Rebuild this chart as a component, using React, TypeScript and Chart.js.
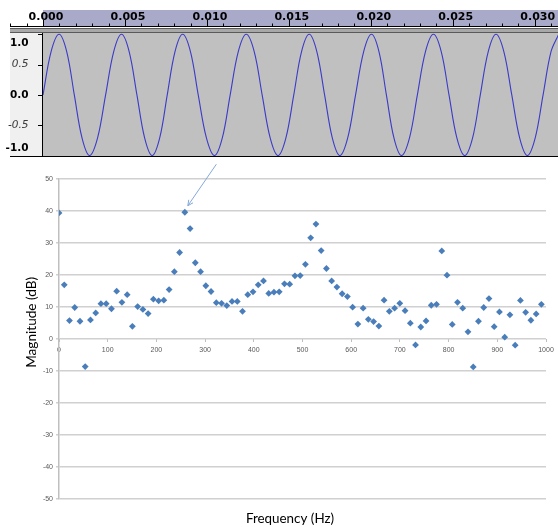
import React, { useEffect, useRef } from 'react';
import { Chart, registerables } from 'chart.js';

Chart.register(...registerables);

// ---- Waveform (Audacity view): points (seconds / amplitude)
const WAVE_TIMES = [
  0, 0.00049, 0.00098, 0.00145, 0.00191, 0.00238, 0.00284, 0.00333,
  0.00382, 0.00431, 0.00479, 0.00526, 0.00573, 0.00620, 0.00666, 0.00712,
  0.00758, 0.00805, 0.00852, 0.00900, 0.00947, 0.00997, 0.01046, 0.01094,
  0.01142, 0.01191, 0.01240, 0.01289, 0.01337, 0.01386, 0.01434, 0.01482,
  0.01530, 0.01577, 0.01624, 0.01671, 0.01718, 0.01765, 0.01811, 0.01859,
  0.01907, 0.01956, 0.02004, 0.02050, 0.02095, 0.02141, 0.02187, 0.02236,
  0.02284, 0.02333, 0.02382, 0.02430, 0.02477, 0.02525, 0.02573, 0.02621,
  0.02668, 0.02716, 0.02764, 0.02812, 0.02860, 0.02908, 0.02955, 0.03003,
  0.03051, 0.03099, 0.03146,
];
const WAVE_VALUES = [
  0, 0.71, 1, 0.71, 0, -0.71, -1, -0.71,
  0, 0.71, 1, 0.71, 0, -0.71, -1, -0.71,
  0, 0.71, 1, 0.71, 0, -0.71, -1, -0.71,
  0, 0.71, 1, 0.71, 0, -0.71, -1, -0.71,
  0, 0.71, 1, 0.71, 0, -0.71, -1, -0.71,
  0, 0.71, 1, 0.71, 0, -0.71, -1, -0.71,
  0, 0.71, 1, 0.71, 0, -0.71, -1, -0.71,
  0, 0.71, 1, 0.71, 0, -0.71, -1, -0.71,
  0, 0.71, 1,
];
const TIME_TICKS = [0, 0.005, 0.01, 0.015, 0.02, 0.025, 0.03];
const AMP_TICKS = [1.0, 0.5, 0.0, -0.5, -1.0];
const AMP_LABELS = ['1.0', '0.5', '0.0', '-0.5', '-1.0'];

// ---- Spectrum
const FREQ_HZ = [
  0, 10.8, 21.5, 32.3, 43.1, 53.8, 64.6, 75.4, 86.1, 96.9,
  107.7, 118.4, 129.2, 140.0, 150.7, 161.5, 172.3, 183.0, 193.8, 204.6,
  215.3, 226.1, 236.9, 247.6, 258.4, 269.2, 279.9, 290.7, 301.5, 312.2,
  323.0, 333.8, 344.5, 355.3, 366.1, 376.8, 387.6, 398.4, 409.1, 419.9,
  430.7, 441.4, 452.2, 463.0, 473.7, 484.5, 495.3, 506.0, 516.8, 527.6,
  538.3, 549.1, 559.9, 570.6, 581.4, 592.2, 602.9, 613.7, 624.5, 635.2,
  646.0, 656.8, 667.5, 678.3, 689.1, 699.8, 710.6, 721.4, 732.1, 742.9,
  753.7, 764.4, 775.2, 786.0, 796.7, 807.5, 818.3, 829.0, 839.8, 850.6,
  861.3, 872.1, 882.9, 893.6, 904.4, 915.2, 925.9, 936.7, 947.5, 958.2,
  969.0, 979.8, 990.5,
];
const MAG_DB = [
  39.4, 16.9, 5.7, 9.8, 5.5, -8.7, 5.9, 8.1, 11.0, 11.0,
  9.4, 14.9, 11.4, 13.8, 3.9, 10.1, 9.2, 7.9, 12.4, 11.9,
  12.1, 15.4, 21.0, 27.0, 39.6, 34.5, 23.8, 21.0, 16.6, 14.8,
  11.3, 11.1, 10.4, 11.7, 11.7, 8.6, 13.8, 14.7, 16.9, 18.1,
  14.2, 14.6, 14.7, 17.2, 17.1, 19.7, 19.8, 23.3, 31.6, 35.9,
  27.6, 22.0, 18.1, 16.2, 14.1, 13.2, 9.9, 4.6, 9.6, 6.1,
  5.4, 4.0, 12.1, 8.6, 9.6, 11.1, 8.8, 4.9, -1.9, 3.7,
  5.6, 10.5, 10.8, 27.5, 19.9, 4.5, 11.4, 9.6, 2.2, -8.8,
  5.5, 9.8, 12.6, 3.8, 8.4, 0.5, 7.5, -2.0, 12.0, 8.3,
  5.8, 7.8, 10.8,
];
const PEAK_INDEX = 24;
const X_TITLE = 'Frequency (Hz)';
const Y_TITLE = 'Magnitude (dB)';

const audacityPlugin = {
  id: 'audacityFrame',
  beforeDraw(chart: any) {
    const { ctx, chartArea: a, width, height } = chart;
    ctx.save();
    ctx.fillStyle = '#ffffff';
    ctx.fillRect(0, 0, width, height);
    ctx.fillStyle = '#a9a9c9';
    ctx.fillRect(a.left, 10, a.right - a.left, 17);
    ctx.fillStyle = '#f0f0f0';
    ctx.fillRect(10, a.top, a.left - 10, a.bottom - a.top);
    ctx.fillStyle = '#c0c0c0';
    ctx.fillRect(a.left, a.top, a.right - a.left, a.bottom - a.top);
    ctx.restore();
  },
  afterDraw(chart: any) {
    const { ctx, chartArea: a, width } = chart;
    const xs = chart.scales.x;
    const ys = chart.scales.y;
    ctx.save();
    // ruler ticks
    ctx.strokeStyle = '#000';
    ctx.lineWidth = 1;
    ctx.beginPath();
    for (let k = -2; k <= 31; k++) {
      const px = Math.round(xs.getPixelForValue(k / 1000)) + 0.5;
      const major = k % 5 === 0;
      ctx.moveTo(px, major ? 20 : 23.5);
      ctx.lineTo(px, 26);
    }
    ctx.stroke();
    // ruler bottom + separator
    ctx.fillStyle = '#000';
    ctx.fillRect(10, 26, width - 10, 1);
    ctx.fillStyle = '#5a5a5a';
    ctx.fillRect(10, 28, width - 10, 1);
    ctx.fillStyle = '#a8a8a8';
    ctx.fillRect(10, 29, width - 10, 3);
    ctx.fillStyle = '#5a5a5a';
    ctx.fillRect(10, 32, width - 10, 1);
    // vertical ruler
    ctx.fillStyle = '#000';
    ctx.fillRect(a.left - 1, a.top, 1, a.bottom - a.top);
    ctx.fillRect(10, a.bottom, width - 10, 1);
    ctx.textAlign = 'right';
    ctx.textBaseline = 'middle';
    AMP_TICKS.forEach((v, i) => {
      const py = ys.getPixelForValue(v);
      ctx.fillStyle = '#000';
      ctx.fillRect(a.left - 5, Math.round(py), 4, 1);
      const major = i % 2 === 0;
      ctx.font = major ? 'bold 10.5px "DejaVu Sans"' : 'italic 10.5px "DejaVu Sans"';
      ctx.fillStyle = major ? '#000' : '#3a3a3a';
      const cy = Math.max(a.top + 10, Math.min(a.bottom - 8, py));
      ctx.fillText(AMP_LABELS[i], 28.5, cy);
    });
    ctx.restore();
  },
};

const specDecorPlugin = {
  id: 'specDecor',
  afterDatasetsDraw(chart: any) {
    const { ctx, chartArea: a } = chart;
    // arrow pointing at the fundamental peak
    const meta = chart.getDatasetMeta(0);
    const el = meta.data[PEAK_INDEX];
    if (el) {
      const tx = el.x + 3;
      const ty = el.y - 6.5;
      const sx = tx + 28.5;
      const sy = ty - 41.5;
      const ang = Math.atan2(ty - sy, tx - sx);
      ctx.save();
      ctx.strokeStyle = '#86a8d8';
      ctx.lineWidth = 1;
      ctx.beginPath();
      ctx.moveTo(sx, sy);
      ctx.lineTo(tx, ty);
      const L = 6;
      ctx.moveTo(tx - L * Math.cos(ang - 0.45), ty - L * Math.sin(ang - 0.45));
      ctx.lineTo(tx, ty);
      ctx.lineTo(tx - L * Math.cos(ang + 0.45), ty - L * Math.sin(ang + 0.45));
      ctx.stroke();
      ctx.restore();
    }
    // y-axis title (Excel places it a little above the plot centre)
    ctx.save();
    ctx.translate(31.5, (a.top + a.bottom) / 2 - 16.5);
    ctx.rotate(-Math.PI / 2);
    ctx.font = '13.6px Lato';
    ctx.fillStyle = '#000';
    ctx.textAlign = 'center';
    ctx.textBaseline = 'middle';
    ctx.fillText(Y_TITLE, 0, 0);
    ctx.restore();
  },
};

export default function App() {
  const waveRef = useRef<HTMLCanvasElement>(null);
  const specRef = useRef<HTMLCanvasElement>(null);

  useEffect(() => {
    document.body.style.margin = '0';
    Chart.defaults.font.family = '"Liberation Sans", Arial, sans-serif';

    const wave = new Chart(waveRef.current as HTMLCanvasElement, {
      type: 'line',
      data: {
        datasets: [
          {
            data: WAVE_TIMES.map((t, i) => ({ x: t, y: WAVE_VALUES[i] })),
            borderColor: '#3a3ac8',
            borderWidth: 1.1,
            pointRadius: 0,
            tension: 0.35,
            fill: false,
          },
        ],
      },
      options: {
        responsive: false,
        animation: false,
        events: [],
        layout: { padding: { left: 0, right: 0, top: 0, bottom: 4 } },
        plugins: { legend: { display: false }, tooltip: { enabled: false } },
        scales: {
          x: {
            type: 'linear',
            position: 'top',
            min: 0,
            max: 0.03142,
            afterBuildTicks: (s: any) => {
              s.ticks = TIME_TICKS.map((v) => ({ value: v }));
            },
            afterFit: (s: any) => {
              s.height = 33;
            },
            ticks: {
              callback: (v: any) => Number(v).toFixed(3),
              font: { family: '"DejaVu Sans"', size: 11, weight: 'bold' },
              color: '#000',
              padding: 1,
              labelOffset: 3,
              maxRotation: 0,
              autoSkip: false,
            },
            grid: { display: false },
            border: { display: false },
          },
          y: {
            type: 'linear',
            min: -1.008,
            max: 1.021,
            ticks: { display: false },
            grid: { display: false },
            border: { display: false },
            afterFit: (s: any) => {
              s.width = 43;
            },
          },
        },
      } as any,
      plugins: [audacityPlugin],
    });

    const spec = new Chart(specRef.current as HTMLCanvasElement, {
      type: 'scatter',
      data: {
        datasets: [
          {
            data: FREQ_HZ.map((f, i) => ({ x: f, y: MAG_DB[i] })),
            pointStyle: 'rectRot',
            pointRadius: 3.4,
            backgroundColor: '#4a7ebb',
            borderColor: '#4a7ebb',
            borderWidth: 0,
          },
        ],
      },
      options: {
        responsive: false,
        animation: false,
        events: [],
        layout: { padding: { left: 22, right: 0, top: 19, bottom: 0 } },
        plugins: {
          legend: { display: false },
          tooltip: { enabled: false },
          title: {
            display: true,
            position: 'bottom',
            text: X_TITLE,
            color: '#000',
            font: { family: 'Lato', size: 13.4, weight: 'normal' },
            padding: { top: 12.3, bottom: 0 },
          },
        },
        scales: {
          x: {
            type: 'linear',
            position: { y: 0 },
            min: 0,
            max: 1000,
            ticks: {
              stepSize: 100,
              callback: (v: any) => String(v),
              font: { size: 7 },
              color: '#595959',
              padding: 4,
              maxRotation: 0,
              autoSkip: false,
            },
            grid: { display: true, drawOnChartArea: false, drawTicks: true, tickLength: 3, color: '#bfbfbf' },
            border: { display: false },
          },
          y: {
            type: 'linear',
            position: 'left',
            min: -50,
            max: 50,
            ticks: { stepSize: 10, callback: (v: any) => String(v), font: { size: 7 }, color: '#595959', padding: 3 },
            grid: { color: '#d0d0d0', lineWidth: 1.5, tickLength: 3 },
            border: { color: '#bfbfbf', width: 1.5 },
            afterFit: (s: any) => {
              s.width = 37;
            },
          },
          y2: {
            type: 'linear',
            position: 'right',
            ticks: { display: false },
            grid: { display: false },
            border: { display: false },
            afterFit: (s: any) => {
              s.width = 12;
            },
          },
        },
      } as any,
      plugins: [specDecorPlugin],
    });

    return () => {
      wave.destroy();
      spec.destroy();
    };
  }, []);

  return (
    <div style={{ width: 558, background: '#fff' }}>
      <canvas ref={waveRef} width={558} height={160} style={{ display: 'block' }} />
      <canvas ref={specRef} width={558} height={367} style={{ display: 'block' }} />
    </div>
  );
}
